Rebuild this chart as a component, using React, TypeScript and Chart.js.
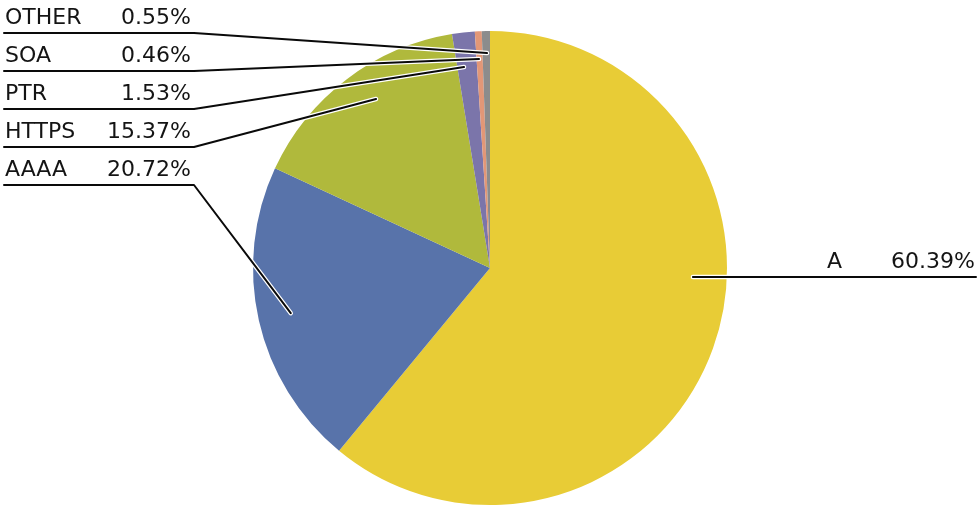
import React, { useEffect, useRef } from "react";
import { Chart, registerables } from "chart.js";

Chart.register(...registerables);

const categories = ["A", "AAAA", "HTTPS", "PTR", "SOA", "OTHER"];
const shares = [60.39, 20.72, 15.37, 1.53, 0.46, 0.55];
const valueLabels = ["60.39%", "20.72%", "15.37%", "1.53%", "0.46%", "0.55%"];
const colors = ["#E8CC36", "#5873AA", "#B0B93C", "#7B75AA", "#E29777", "#8C8C8C"];

// label layout (style): side, underline y, and where the leader meets the slice
const labelSide = ["right", "left", "left", "left", "left", "left"];
const labelLineY = [277, 185, 147, 109, 71, 33];
const leaderFrac = [0.4215, 0.5, 0.557, 0.336, 0.4, 0.6];
const leaderRadius = [0.857, 0.862, 0.86, 0.855, 0.883, 0.907];

const FONT = '22px "DejaVu Sans", sans-serif';

const labelPlugin = {
  id: "leaderLabels",
  afterDraw(chart: any) {
    const ctx = chart.ctx as CanvasRenderingContext2D;
    const meta = chart.getDatasetMeta(0);
    ctx.save();
    ctx.font = FONT;
    meta.data.forEach((arc: any, i: number) => {
      const { x, y, startAngle, endAngle, outerRadius } = arc.getProps(
        ["x", "y", "startAngle", "endAngle", "outerRadius"],
        true
      );
      const a = startAngle + leaderFrac[i] * (endAngle - startAngle);
      const r = leaderRadius[i] * outerRadius;
      const px = x + r * Math.cos(a);
      const py = y + r * Math.sin(a);
      const ly = labelLineY[i];
      let pts: [number, number][];
      let nameX: number, valRight: number;
      if (labelSide[i] === "right") {
        nameX = 827;
        valRight = 975;
        pts = [
          [px, py],
          [976, ly],
        ];
      } else {
        nameX = 5;
        valRight = 191;
        pts = [
          [px, py],
          [194, ly],
          [4, ly],
        ];
      }
      ctx.lineJoin = "round";
      ctx.lineCap = "round";
      ctx.strokeStyle = "#ffffff";
      ctx.lineWidth = 4.5;
      ctx.beginPath();
      pts.forEach((p, k) => (k === 0 ? ctx.moveTo(p[0], p[1]) : ctx.lineTo(p[0], p[1])));
      ctx.stroke();
      ctx.strokeStyle = "#0a0a0a";
      ctx.lineWidth = 2;
      ctx.beginPath();
      pts.forEach((p, k) => (k === 0 ? ctx.moveTo(p[0], p[1]) : ctx.lineTo(p[0], p[1])));
      ctx.stroke();

      ctx.fillStyle = "#141414";
      ctx.textBaseline = "alphabetic";
      ctx.textAlign = "left";
      ctx.fillText(categories[i], nameX, ly - 9);
      ctx.textAlign = "right";
      ctx.fillText(valueLabels[i], valRight, ly - 9);
    });
    ctx.restore();
  },
};

export default function App() {
  const ref = useRef<HTMLCanvasElement | null>(null);
  useEffect(() => {
    if (!ref.current) return;
    const chart = new Chart(ref.current, {
      type: "pie",
      data: {
        labels: categories,
        datasets: [
          {
            data: shares,
            backgroundColor: colors,
            borderWidth: 0,
          },
        ],
      },
      options: {
        animation: false,
        responsive: false,
        devicePixelRatio: 1,
        layout: { padding: { top: 31, bottom: 25, left: 0, right: 0 } },
        plugins: {
          legend: { display: false },
          tooltip: { enabled: false },
        },
      },
      plugins: [labelPlugin],
    });
    return () => chart.destroy();
  }, []);
  return (
    <div style={{ position: "fixed", left: 0, top: 0, width: 980, height: 530, background: "#fff" }}>
      <canvas ref={ref} width={980} height={530} style={{ width: 980, height: 530, display: "block" }} />
    </div>
  );
}
